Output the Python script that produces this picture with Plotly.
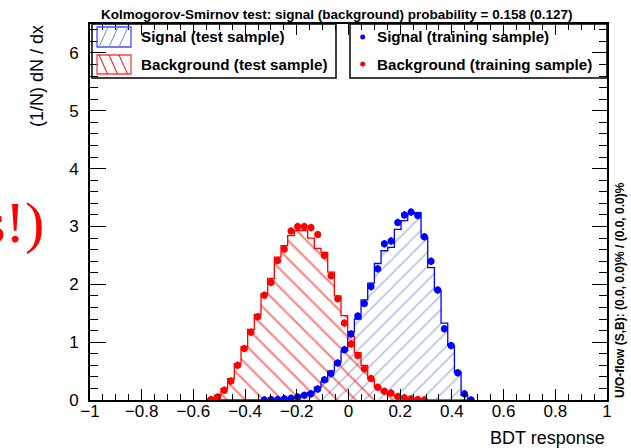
import plotly.graph_objects as go

# ---- histogram binning of the BDT output ----
n_bins = 40
x_min = -0.5449
x_max = 0.4871

# ---- test-sample histograms (normalised, 1/N dN/dx) ----
sig_test = [0.0, 0.0, 0.0, 0.0, 0.0, 0.0, 0.0, 0.0,
            0.0, 0.005, 0.01, 0.02, 0.03, 0.05, 0.09, 0.13,
            0.22, 0.32, 0.50, 0.66, 0.85, 1.18, 1.40, 1.73,
            2.02, 2.36, 2.58, 2.64, 2.95, 3.10, 3.22, 3.24,
            2.81, 2.29, 1.89, 1.33, 0.94, 0.48, 0.08, 0.0]
bkg_test = [0.02, 0.08, 0.20, 0.37, 0.63, 0.92, 1.22, 1.48,
            1.84, 2.10, 2.47, 2.67, 2.84, 2.93, 2.93, 2.80,
            2.62, 2.55, 2.21, 1.80, 1.46, 1.10, 0.82, 0.60,
            0.36, 0.22, 0.14, 0.09, 0.06, 0.04, 0.02, 0.01,
            0.0, 0.0, 0.0, 0.0, 0.0, 0.0, 0.0, 0.0]

# ---- training-sample points ----
sig_train = [None, None, None, None, None, None, None, None,
             0.0, 0.01, 0.01, 0.02, 0.03, 0.05, 0.08, 0.11,
             0.19, 0.35, 0.46, 0.64, 0.87, 1.14, 1.45, 1.67,
             1.96, 2.27, 2.70, 2.75, 3.07, 3.20, 3.25, 3.19,
             2.82, 2.40, 1.90, 1.23, 0.94, 0.47, 0.11, 0.0]
bkg_train = [0.01, 0.05, 0.17, 0.33, 0.60, 0.89, 1.17, 1.44,
             1.81, 2.03, 2.41, 2.61, 2.92, 3.00, 3.00, 2.98,
             2.86, 2.50, 2.15, 1.75, 1.33, 0.97, 0.77, 0.54,
             0.37, 0.22, 0.15, 0.12, 0.06, 0.04, 0.02, 0.01,
             0.0, None, None, None, None, None, None, None]

ks_sig = 0.158
ks_bkg = 0.127
x_ticks = [-1, -0.8, -0.6, -0.4, -0.2, 0, 0.2, 0.4, 0.6, 0.8, 1]
y_ticks = [0, 1, 2, 3, 4, 5, 6]

bin_w = (x_max - x_min) / n_bins
edges = [x_min + i * bin_w for i in range(n_bins + 1)]
centers = [0.5 * (edges[i] + edges[i + 1]) for i in range(n_bins)]

SIG_LINE = "#0000ff"
SIG_HATCH = "#6f8ccc"
BKG_LINE = "#ff0000"
BKG_HATCH = "#ff0000"
FONT = "Liberation Sans"

# page geometry (pixels)
W, H = 631, 448
ML, MR, MT, MB = 90, 24, 24, 48
PW, PH = W - ML - MR, H - MT - MB


def px(xp):
    return (xp - ML) / PW


def py(yp):
    return (H - MB - yp) / PH


def step_outline(vals):
    xs = [edges[0]] + edges[:-1] + [edges[-1]]
    ys = [0.0] + list(vals) + [0.0]
    return xs, ys


fig = go.Figure()

# signal (test) : hatched area + outline
fig.add_trace(go.Bar(
    x=centers, y=sig_test, width=bin_w,
    marker=dict(color="rgba(0,0,0,0)", line=dict(width=0),
                pattern=dict(shape="/", fgcolor=SIG_HATCH, bgcolor="rgba(0,0,0,0)",
                             size=10, solidity=0.18)),
    hoverinfo="skip", showlegend=False))
sx, sy = step_outline(sig_test)
fig.add_trace(go.Scatter(x=sx, y=sy, mode="lines", line=dict(color=SIG_LINE, width=1.3, shape="hv"),
                         hoverinfo="skip", showlegend=False))

# background (test) : hatched area + outline
fig.add_trace(go.Bar(
    x=centers, y=bkg_test, width=bin_w,
    marker=dict(color="rgba(0,0,0,0)", line=dict(width=0),
                pattern=dict(shape="\\", fgcolor=BKG_HATCH, bgcolor="rgba(0,0,0,0)",
                             size=13, solidity=0.16)),
    hoverinfo="skip", showlegend=False))
bx, by = step_outline(bkg_test)
fig.add_trace(go.Scatter(x=bx, y=by, mode="lines", line=dict(color=BKG_LINE, width=1.3, shape="hv"),
                         hoverinfo="skip", showlegend=False))

# training samples as points with error bars
for vals, col in ((sig_train, SIG_LINE), (bkg_train, BKG_LINE)):
    fig.add_trace(go.Scatter(
        x=centers, y=vals, mode="markers",
        marker=dict(color=col, size=7, symbol="circle"),
        error_y=dict(type="constant", value=0.065, color=col, thickness=1.6, width=0),
        error_x=dict(type="constant", value=0.007, color=col, thickness=1.6, width=0),
        hoverinfo="skip", showlegend=False))

shapes = []
annotations = []

# legend boxes
for x0, x1 in ((92, 336), (350, 607)):
    shapes.append(dict(type="rect", xref="paper", yref="paper",
                       x0=px(x0), x1=px(x1), y0=py(78), y1=py(24),
                       line=dict(color="black", width=1.5), fillcolor="white", layer="below"))

# hatched swatches of the left legend
def swatch(y0, y1, col, hatch, direction):
    x0, x1 = 97, 131
    shapes.append(dict(type="rect", xref="paper", yref="paper",
                       x0=px(x0), x1=px(x1), y0=py(y1), y1=py(y0),
                       line=dict(color=col, width=1.3), fillcolor="rgba(0,0,0,0)"))
    h = y1 - y0
    for xs in (x0 + 2, x0 + 12, x0 + 22):
        if direction > 0:   # "/"
            a, b = (xs, y1), (xs + h * 0.45, y0)
        else:               # "\"
            a, b = (xs, y0), (xs + h * 0.45, y1)
        shapes.append(dict(type="line", xref="paper", yref="paper",
                           x0=px(a[0]), y0=py(a[1]), x1=px(min(b[0], x1)), y1=py(b[1]),
                           line=dict(color=hatch, width=1)))

swatch(27, 47, "#4a4aff", SIG_HATCH, +1)
swatch(55, 74, "#ff4040", BKG_HATCH, -1)

# dots of the right legend
for yc, col in ((37, SIG_LINE), (64, BKG_LINE)):
    shapes.append(dict(type="circle", xref="paper", yref="paper",
                       x0=px(360.2), x1=px(365.2), y0=py(yc + 2.5), y1=py(yc - 2.5),
                       line=dict(width=0), fillcolor=col))

legend_font = dict(family=FONT, size=15.2, color="black", weight="bold")
for xt, yt, txt in ((139, 37, "Signal (test sample)"),
                    (139, 64, "Background (test sample)"),
                    (374.5, 37, "Signal (training sample)"),
                    (374.5, 64, "Background (training sample)")):
    annotations.append(dict(xref="paper", yref="paper", x=px(xt), y=py(yt), text=txt,
                            showarrow=False, xanchor="left", yanchor="middle", font=legend_font))

# title line with the KS probabilities
annotations.append(dict(
    xref="paper", yref="paper", x=px(336.5), y=py(15),
    text=f"Kolmogorov-Smirnov test: signal (background) probability = {ks_sig:.3f} ({ks_bkg:.3f})",
    showarrow=False, xanchor="center", yanchor="middle",
    font=dict(family=FONT, size=13.5, color="black", weight="bold")))

# axis titles
annotations.append(dict(xref="paper", yref="paper", x=px(607), y=py(438), text="BDT response",
                        showarrow=False, xanchor="right", yanchor="middle",
                        font=dict(family=FONT, size=18, color="black")))
annotations.append(dict(xref="paper", yref="paper", x=px(37), y=py(76), text="(1/N) dN / dx",
                        showarrow=False, textangle=-90, xanchor="center", yanchor="middle",
                        font=dict(family=FONT, size=18, color="black")))

# under/overflow note on the right
annotations.append(dict(xref="paper", yref="paper", x=px(620), y=py(290),
                        text="U/O-flow (S,B): (0.0, 0.0)% / (0.0, 0.0)%",
                        showarrow=False, textangle=-90, xanchor="center", yanchor="middle",
                        font=dict(family=FONT, size=12, color="black", weight="bold")))

# large red note at the left edge
annotations.append(dict(xref="paper", yref="paper", x=px(46), y=py(222), text="s!)",
                        showarrow=False, xanchor="right", yanchor="middle",
                        font=dict(family="Liberation Serif", size=58, color="#ff0000")))

fig.update_layout(
    width=W, height=H,
    margin=dict(l=ML, r=MR, t=MT, b=MB, pad=0),
    paper_bgcolor="white", plot_bgcolor="white",
    barmode="overlay", bargap=0,
    showlegend=False,
    shapes=shapes, annotations=annotations,
    font=dict(family=FONT, color="black"),
)
fig.update_xaxes(
    range=[-1, 1], tickvals=x_ticks, showgrid=False, zeroline=False,
    showline=True, linecolor="black", linewidth=2, mirror="ticks",
    ticks="inside", ticklen=11, tickwidth=1.3, tickcolor="black",
    minor=dict(dtick=0.05, ticks="inside", ticklen=5.6, tickwidth=1.3, tickcolor="black", showgrid=False),
    tickfont=dict(family=FONT, size=17, color="black"), ticklabelstandoff=-5,
)
fig.update_yaxes(
    range=[0, 6.5], tickvals=y_ticks, showgrid=False, zeroline=False,
    showline=True, linecolor="black", linewidth=2, mirror="ticks",
    ticks="inside", ticklen=15.5, tickwidth=1.3, tickcolor="black",
    minor=dict(dtick=0.2, ticks="inside", ticklen=7.8, tickwidth=1.3, tickcolor="black", showgrid=False),
    tickfont=dict(family=FONT, size=17, color="black"), ticklabelstandoff=6,
)

fig.write_html("out.html")
